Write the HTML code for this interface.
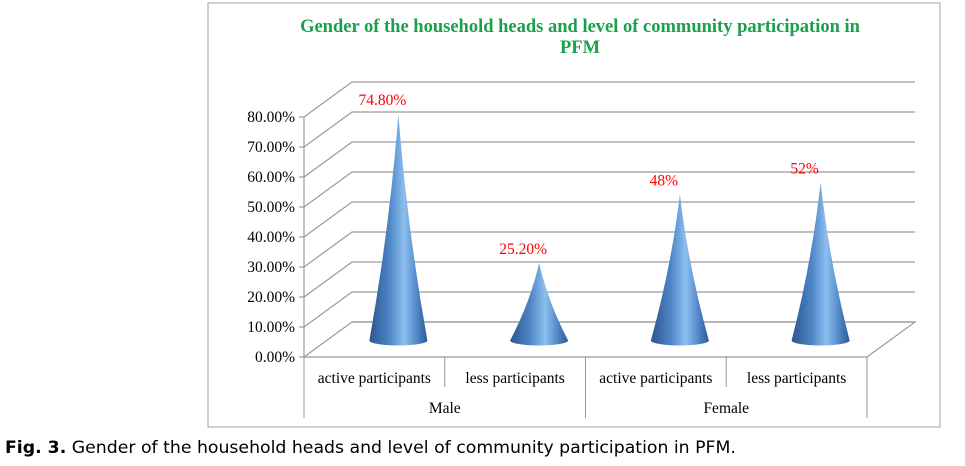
<!DOCTYPE html>
<html><head><meta charset="utf-8"><style>
body{margin:0;background:#fff;width:965px;height:466px;overflow:hidden;position:relative}
svg{position:absolute;left:0;top:0}
</style></head><body>
<svg width="965" height="466" font-family="'Liberation Serif',serif">
<defs>
<linearGradient id="cg" x1="0" x2="1" y1="0" y2="0">
<stop offset="0" stop-color="#2c5590"/><stop offset="0.35" stop-color="#4f86c6"/>
<stop offset="0.6" stop-color="#8cbff0"/><stop offset="0.85" stop-color="#4a7fc0"/><stop offset="1" stop-color="#2e5a96"/>
</linearGradient>
</defs>
<rect x="208" y="3" width="732" height="424" fill="#fff" stroke="#a0a0a0"/>
<text x="580" y="32" text-anchor="middle" fill="#1aa04a" font-weight="bold" font-size="18.5">Gender of the household heads and level of community participation in</text>
<text x="580" y="53" text-anchor="middle" fill="#1aa04a" font-weight="bold" font-size="18.5">PFM</text>
<g id="grid"></g>
<g id="cones"></g>
<g id="axis"></g>
<text x="5" y="453" font-family="'DejaVu Sans',sans-serif" font-size="17.3"><tspan font-weight="bold">Fig. 3.</tspan> Gender of the household heads and level of community participation in PFM.</text>
</svg>
<script>
const categories=["active participants","less participants","active participants","less participants"];
const groups=["Male","Female"];
const values=[74.8,25.2,48,52];
const valueLabels=["74.80%","25.20%","48%","52%"];
const ticks=[0,10,20,30,40,50,60,70,80];
const NS="http://www.w3.org/2000/svg";
const x0=304,x1=867,y0=357,dx=48,dy=-35,ppu=3;
const Y=v=>y0-v*ppu;
const cw=(x1-x0)/categories.length;
function mk(t,a,p){const e=document.createElementNS(NS,t);for(const k in a)e.setAttribute(k,a[k]);p.appendChild(e);return e;}
const grid=document.getElementById('grid'),cones=document.getElementById('cones'),axis=document.getElementById('axis');
ticks.forEach(t=>{
 const y=Y(t);
 const l=mk('path',{d:`M${x0} ${y} L${x0+dx} ${y+dy} L${x1+dx} ${y+dy}`,stroke:'#9a9a9a',fill:'none','stroke-width':1.2},grid);
 
 
 const tk=mk('line',{x1:x0-5,x2:x0,y1:y,y2:y,stroke:'#888'},grid);
 
 
 const tx=mk('text',{x:x0-9,y:y+5,'text-anchor':'end','font-size':15.5},grid);
 tx.textContent=t.toFixed(2)+'%';
 
 
});
const ax=mk('line',{x1:x0,x2:x0,y1:Y(ticks[ticks.length-1]),y2:y0,stroke:'#888'},grid);


const fl=mk('path',{d:`M${x0} ${y0} L${x1} ${y0} L${x1+dx} ${y0+dy} L${x0+dx} ${y0+dy}`,stroke:'#9a9a9a',fill:'none','stroke-width':1.2},grid);


const by=y0+dy/2+1,hw=29,ry=5;
values.forEach((v,i)=>{
 const cx=x0+cw*(i+0.5)+dx/2,ty=by-2-v*ppu;
 const c=mk('path',{d:`M${cx-hw} ${by} Q${cx-hw*0.3} ${(by+ty)/2} ${cx} ${ty} Q${cx+hw*0.3} ${(by+ty)/2} ${cx+hw} ${by} A${hw} ${ry} 0 0 1 ${cx-hw} ${by} Z`,fill:'url(#cg)'},cones);
 
 
 const lb=mk('text',{x:cx-16,y:ty-9,'text-anchor':'middle',fill:'#ff0000','font-size':15.5},cones);
 lb.textContent=valueLabels[i];
 
 
});
const r1=387,r2=418;
for(let i=0;i<=categories.length;i++){
 const x=x0+cw*i,long=(i===0||i===categories.length||i===categories.length/2);
 const l=mk('line',{x1:x,x2:x,y1:y0,y2:long?r2:r1,stroke:'#999'},axis);
 
 
}
categories.forEach((c,i)=>{
 const t=mk('text',{x:x0+cw*(i+0.5),y:r1-4,'text-anchor':'middle','font-size':15.5},axis);
 t.textContent=c;
 
 
});
groups.forEach((g,i)=>{
 const t=mk('text',{x:x0+cw*(2*i+1),y:r2-5,'text-anchor':'middle','font-size':15.5},axis);
 t.textContent=g;
 
 
});
</script>
</body></html>
